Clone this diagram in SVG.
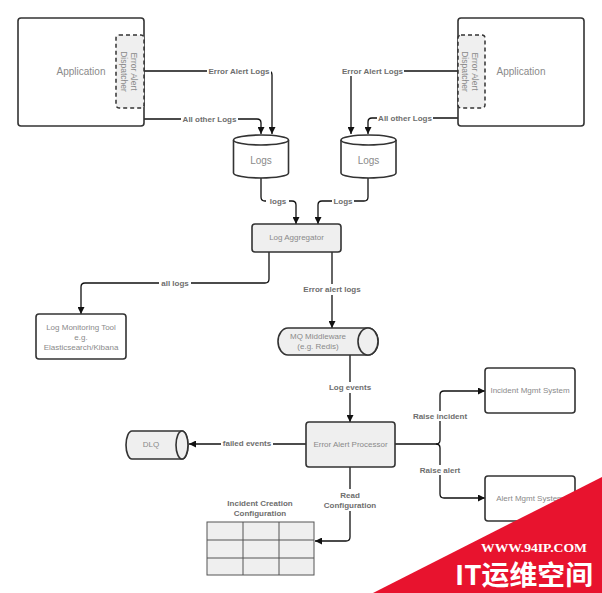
<svg xmlns="http://www.w3.org/2000/svg" width="602" height="593" viewBox="0 0 602 593">
<defs>
<marker id="arr" viewBox="0 0 10 10" refX="10" refY="5" markerWidth="7" markerHeight="7" markerUnits="userSpaceOnUse" orient="auto">
<path d="M0,0 L10,5 L0,10 Z" fill="#111"/>
</marker>
<style>
.box{fill:#fff;stroke:#333;stroke-width:1.6}
.gbox{fill:#efefef;stroke:#333;stroke-width:1.6}
.dash{fill:#efefef;stroke:#333;stroke-width:1.5;stroke-dasharray:4 3}
.nt{font-family:"Liberation Sans",Arial,sans-serif;font-size:8px;fill:#8a8a8a;text-anchor:middle;dominant-baseline:central}
.big{font-size:10px}
.lt{font-family:"Liberation Sans",Arial,sans-serif;font-size:8px;font-weight:bold;fill:#6e6e6e;text-anchor:middle;dominant-baseline:central}
.c{fill:none;stroke:#111;stroke-width:1.3}
.bg{fill:#fff}
.tbl{fill:#efefef;stroke:#555;stroke-width:1}
</style>
</defs>
<rect width="602" height="593" fill="#fff"/>

<g id="connectors">
<path class="c" d="M144,71 H268 Q272,71 272,75 V134" marker-end="url(#arr)"/>
<path class="c" d="M144,119 H257 Q261,119 261,123 V134" marker-end="url(#arr)"/>
<path class="c" d="M458,71 H355 Q351,71 351,75 V134" marker-end="url(#arr)"/>
<path class="c" d="M458,118 H372 Q368,118 368,122 V134" marker-end="url(#arr)"/>
<path class="c" d="M261,178 V197 Q261,201 265,201 H292 Q296,201 296,205 V224" marker-end="url(#arr)"/>
<path class="c" d="M368,178 V197 Q368,201 364,201 H322 Q318,201 318,205 V224" marker-end="url(#arr)"/>
<path class="c" d="M269,252 V279 Q269,283 265,283 H85 Q81,283 81,287 V314" marker-end="url(#arr)"/>
<path class="c" d="M332,252 V328" marker-end="url(#arr)"/>
<path class="c" d="M350,355 V422" marker-end="url(#arr)"/>
<path class="c" d="M306,444 H189" marker-end="url(#arr)"/>
<path class="c" d="M350,467 V537 Q350,541 346,541 H315" marker-end="url(#arr)"/>
<path class="c" d="M395,444 H436 Q440,444 440,440 V395 Q440,391 444,391 H485" marker-end="url(#arr)"/>
<path class="c" d="M436,444 Q440,444 440,448 V494 Q440,498 444,498 H485" marker-end="url(#arr)"/>
<g id="connector-labels">
<rect class="bg" x="207" y="66" width="64" height="10"/><text class="lt" x="239" y="71">Error Alert Logs</text>
<rect class="bg" x="181" y="114" width="57" height="10"/><text class="lt" x="209.5" y="119">All other Logs</text>
<rect class="bg" x="341" y="66" width="63" height="10"/><text class="lt" x="372.5" y="71">Error Alert Logs</text>
<rect class="bg" x="377" y="113" width="56" height="10"/><text class="lt" x="405" y="118">All other Logs</text>
<rect class="bg" x="266" y="196" width="23" height="10"/><text class="lt" x="278" y="201">logs</text>
<rect class="bg" x="332" y="196" width="22" height="10"/><text class="lt" x="343" y="201">Logs</text>
<rect class="bg" x="159" y="278" width="32" height="10"/><text class="lt" x="175" y="283">all logs</text>
<rect class="bg" x="302" y="284" width="60" height="11"/><text class="lt" x="332" y="289">Error alert logs</text>
<rect class="bg" x="327" y="382" width="46" height="11"/><text class="lt" x="350" y="387">Log events</text>
<rect class="bg" x="221" y="438" width="52" height="10"/><text class="lt" x="247" y="443">failed events</text>
<rect class="bg" x="322" y="489" width="56" height="22"/><text class="lt" x="350" y="495">Read</text><text class="lt" x="350" y="505">Configuration</text>
<rect class="bg" x="411" y="411" width="58" height="10"/><text class="lt" x="440" y="416">Raise incident</text>
<rect class="bg" x="418" y="465" width="44" height="10"/><text class="lt" x="440" y="470">Raise alert</text>
</g>
</g>

<g id="app-left">
<rect class="box" x="18" y="18" width="126" height="108" rx="3"/>
<text class="nt big" x="81" y="71">Application</text>
</g>
<g id="dispatcher-left">
<rect class="dash" x="116" y="35" width="28" height="73" rx="3"/>
<g transform="translate(129,71.5) rotate(90)">
<text class="nt" x="0" y="-5" style="font-size:8.5px">Error Alert</text>
<text class="nt" x="0" y="5" style="font-size:8.5px">Dispatcher</text>
</g>
</g>

<g id="app-right">
<rect class="box" x="458" y="18" width="126" height="108" rx="3"/>
<text class="nt big" x="521" y="71">Application</text>
</g>
<g id="dispatcher-right">
<rect class="dash" x="458" y="35" width="27" height="73" rx="3"/>
<g transform="translate(470,71.5) rotate(90)">
<text class="nt" x="0" y="-5" style="font-size:8.5px">Error Alert</text>
<text class="nt" x="0" y="5" style="font-size:8.5px">Dispatcher</text>
</g>
</g>

<g id="logs-left">
<path class="box" d="M233.5,140 V173 A27.5,5 0 0 0 288.5,173 V140"/>
<ellipse class="box" cx="261" cy="140" rx="27.5" ry="5"/>
<text class="nt big" x="261" y="160">Logs</text>
</g>
<g id="logs-right">
<path class="box" d="M341,140 V173 A27.5,5 0 0 0 396,173 V140"/>
<ellipse class="box" cx="368.5" cy="140" rx="27.5" ry="5"/>
<text class="nt big" x="368.5" y="160">Logs</text>
</g>

<g id="log-aggregator">
<rect class="gbox" x="252" y="224" width="89" height="28" rx="3"/>
<text class="nt" x="296.5" y="237">Log Aggregator</text>
</g>

<g id="log-monitoring">
<rect class="box" x="36" y="314" width="90" height="45" rx="3"/>
<text class="nt" x="81" y="327">Log Monitoring Tool</text>
<text class="nt" x="81" y="337">e.g.</text>
<text class="nt" x="81" y="347">Elasticsearch/Kibana</text>
</g>

<g id="mq-middleware">
<path class="gbox" d="M288,328 H368 A10,13.5 0 0 1 368,355 H288 A10,13.5 0 0 1 288,328 Z"/>
<ellipse class="gbox" cx="368" cy="341.5" rx="10" ry="13.5"/>
<text class="nt" x="318" y="336">MQ Middleware</text>
<text class="nt" x="318" y="346">(e.g. Redis)</text>
</g>

<g id="error-alert-processor">
<rect class="gbox" x="306" y="422" width="89" height="45" rx="3"/>
<text class="nt" x="350.5" y="444">Error Alert Processor</text>
</g>

<g id="dlq">
<path class="gbox" d="M132,431 H182 A6,14 0 0 1 182,459 H132 A6,14 0 0 1 132,431 Z"/>
<ellipse class="gbox" cx="182" cy="445" rx="6" ry="14"/>
<text class="nt" x="151" y="444">DLQ</text>
</g>

<g id="incident-mgmt">
<rect class="box" x="485" y="368" width="90" height="45" rx="3"/>
<text class="nt" x="530" y="390">Incident Mgmt System</text>
</g>

<g id="alert-mgmt">
<rect class="box" x="485" y="476" width="90" height="45" rx="3"/>
<text class="nt" x="530" y="498">Alert Mgmt System</text>
</g>

<g id="incident-config">
<text class="lt" x="260" y="503">Incident Creation</text>
<text class="lt" x="260" y="513">Configuration</text>
<rect class="tbl" x="207" y="522" width="107" height="53"/>
<path d="M243,522 V575 M279,522 V575 M207,540 H314 M207,558 H314" stroke="#555" stroke-width="1" fill="none"/>
</g>

<g id="watermark">
<polygon points="373,593 602,477 602,593" fill="#e8132e"/>
<text x="534" y="552" text-anchor="middle" font-family="Liberation Serif,serif" font-weight="bold" font-size="12.5" fill="#fff" textLength="106" lengthAdjust="spacingAndGlyphs">WWW.94IP.COM</text>
<text x="524" y="585" text-anchor="middle" font-family="Noto Sans CJK SC,sans-serif" font-weight="bold" font-size="27" fill="#fff" textLength="138" lengthAdjust="spacingAndGlyphs">IT运维空间</text>
</g>
</svg>
